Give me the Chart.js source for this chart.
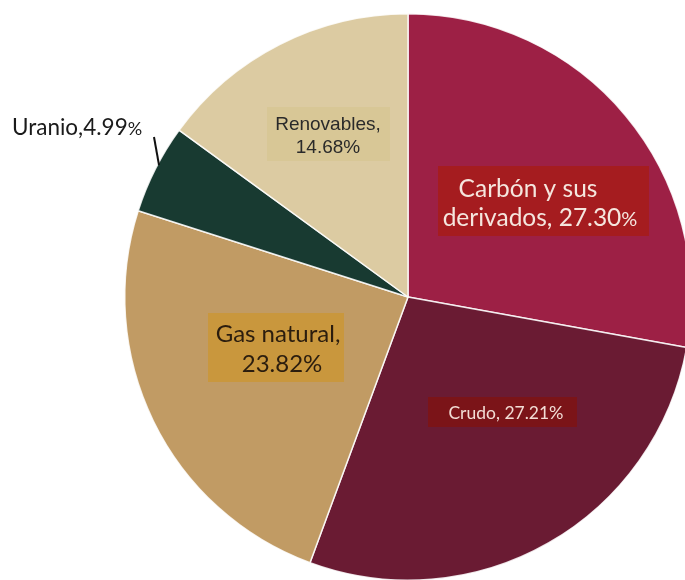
<!DOCTYPE html>
<html>
<head>
<meta charset="utf-8">
<script src="https://cdn.jsdelivr.net/npm/chart.js@4"></script>
<style>
  html, body { margin: 0; padding: 0; background: #fff; }
  #wrap { position: relative; width: 685px; height: 580px; overflow: hidden; }
  /* the pie is wider than the window on purpose: its right edge is cut off */
  #holder { position: absolute; left: 0; top: 13px; width: 816px; height: 568px; }
</style>
</head>
<body>
<div id="wrap"><div id="holder"><canvas id="pie"></canvas></div></div>
<script>
// energy mix, share of each source (%)
const sources = ['Carbón y sus derivados', 'Crudo', 'Gas natural', 'Uranio', 'Renovables'];
const shares = [27.30, 27.21, 23.82, 4.99, 14.68];

const sliceColors = ['#9d2045', '#6a1b33', '#c19b64', '#183a31', '#dccba2'];

// label boxes, offsets in px from the pie centre
const labelLayout = [
  { box: [30, -131, 211, 70], fill: '#a51c1f', color: '#f5e6de', font: 'Lato', size: 24.5, pctScale: 0.8,
    lines: (n, v) => [[120, -100, 'Carbón y sus'], [132, -71, 'derivados, ' + v]] },
  { box: [20, 100, 149, 30], fill: '#7b1418', color: '#f2ddd5', font: 'Lato', size: 17.5, pctScale: 1,
    lines: (n, v) => [[98, 122, n + ', ' + v]] },
  { box: [-200, 16, 136, 69], fill: '#c9973d', color: '#2b1d0e', font: 'Lato', size: 24, pctScale: 1,
    lines: (n, v) => [[-130, 45, n + ','], [-126, 75, v]] },
  { box: null, color: '#1a1a1a', font: 'Lato', size: 22.5, pctScale: 0.8, align: 'left',
    lines: (n, v) => [[-396, -162, n + ',' + v]], leader: [-254, -160, -249, -132] },
  { box: [-141, -190, 123, 54], fill: '#d8c796', color: '#2a2a2a', font: 'Liberation Sans', size: 19, pctScale: 1,
    lines: (n, v) => [[-80, -167, n + ','], [-80, -144, v]] }
];

// draws a line of text, with the trailing % optionally smaller
function drawRun(ctx, text, x, y, cfg) {
  const body = text.endsWith('%') ? text.slice(0, -1) : text;
  const pct = text.endsWith('%') ? '%' : '';
  const big = cfg.size + 'px "' + cfg.font + '"';
  const small = Math.round(cfg.size * cfg.pctScale) + 'px "' + cfg.font + '"';
  ctx.font = big;
  const w1 = ctx.measureText(body).width;
  ctx.font = small;
  const w2 = ctx.measureText(pct).width;
  let left = cfg.align === 'left' ? x : x - (w1 + w2) / 2;
  ctx.textAlign = 'left';
  ctx.textBaseline = 'alphabetic';
  ctx.fillStyle = cfg.color;
  ctx.font = big;
  ctx.fillText(body, left, y);
  ctx.font = small;
  ctx.fillText(pct, left + w1, y);
}

const boxLabels = {
  id: 'boxLabels',
  afterDatasetsDraw(chart) {
    const ctx = chart.ctx;
    const arcs = chart.getDatasetMeta(0).data;
    const cx = arcs[0].x, cy = arcs[0].y;
    ctx.save();
    labelLayout.forEach((cfg, i) => {
      const value = shares[i].toFixed(2) + '%';
      if (cfg.box) {
        ctx.fillStyle = cfg.fill;
        ctx.fillRect(cx + cfg.box[0], cy + cfg.box[1], cfg.box[2], cfg.box[3]);
      }
      if (cfg.leader) {
        ctx.strokeStyle = '#111';
        ctx.lineWidth = 2;
        ctx.beginPath();
        ctx.moveTo(cx + cfg.leader[0], cy + cfg.leader[1]);
        ctx.lineTo(cx + cfg.leader[2], cy + cfg.leader[3]);
        ctx.stroke();
      }
      cfg.lines(sources[i], value).forEach(([dx, dy, t]) => drawRun(ctx, t, cx + dx, cy + dy, cfg));
    });
    ctx.restore();
  }
};

new Chart(document.getElementById('pie'), {
  type: 'pie',
  data: {
    labels: sources,
    datasets: [{
      data: shares,
      backgroundColor: sliceColors,
      borderColor: 'rgba(255,255,255,0.85)',
      borderWidth: 1.5
    }]
  },
  options: {
    responsive: true,
    maintainAspectRatio: false,
    animation: false,
    layout: { padding: 0 },
    plugins: {
      legend: { display: false },
      tooltip: { enabled: false }
    }
  },
  plugins: [boxLabels]
});
</script>
</body>
</html>
